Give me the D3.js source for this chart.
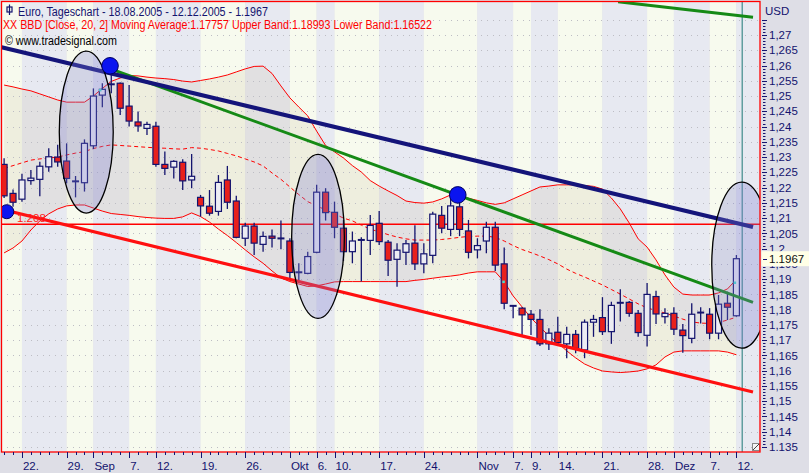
<!DOCTYPE html>
<html><head><meta charset="utf-8">
<script src="https://cdn.jsdelivr.net/npm/d3@7"></script>
<style>html,body{margin:0;padding:0;background:#dedee6;}svg{display:block;}</style>
</head><body>
<svg id="c" width="809" height="473"></svg>
<script>
// ---------- DATA ----------
const dates = ["2005-08-18","2005-08-19","2005-08-22","2005-08-23","2005-08-24","2005-08-25","2005-08-26","2005-08-29","2005-08-30","2005-08-31",
"2005-09-01","2005-09-02","2005-09-05","2005-09-06","2005-09-07","2005-09-08","2005-09-09","2005-09-12","2005-09-13","2005-09-14","2005-09-15","2005-09-16","2005-09-19","2005-09-20","2005-09-21","2005-09-22","2005-09-23","2005-09-26","2005-09-27","2005-09-28","2005-09-29","2005-09-30",
"2005-10-03","2005-10-04","2005-10-05","2005-10-06","2005-10-07","2005-10-10","2005-10-11","2005-10-12","2005-10-13","2005-10-14","2005-10-17","2005-10-18","2005-10-19","2005-10-20","2005-10-21","2005-10-24","2005-10-25","2005-10-26","2005-10-27","2005-10-28","2005-10-31",
"2005-11-01","2005-11-02","2005-11-03","2005-11-04","2005-11-07","2005-11-08","2005-11-09","2005-11-10","2005-11-11","2005-11-14","2005-11-15","2005-11-16","2005-11-17","2005-11-18","2005-11-21","2005-11-22","2005-11-23","2005-11-24","2005-11-25","2005-11-28","2005-11-29","2005-11-30",
"2005-12-01","2005-12-02","2005-12-05","2005-12-06","2005-12-07","2005-12-08","2005-12-09","2005-12-12"];

const open  = [1.2276,1.2181,1.2162,1.2223,1.2227,1.2268,1.2300,1.2287,1.2220,1.2216,
1.2337,1.2503,1.2538,1.2542,1.2467,1.2415,1.2394,1.2401,1.2276,1.2267,
1.2283,1.2225,1.2168,1.2139,1.2122,1.2225,1.2156,1.2034,1.2074,1.2014,
1.2041,1.2034,1.2025,1.1922,1.1919,1.1988,1.2185,1.2119,1.2067,1.1990,
1.2028,1.2027,1.2083,1.2021,1.1965,1.1988,1.2018,1.1950,1.1978,1.2109,
1.2063,1.2137,1.2058,1.1996,1.2025,1.2070,1.1950,1.1812,1.1805,1.1785,
1.1768,1.1688,1.1726,1.1688,1.1719,1.1668,1.1759,1.1774,1.1728,1.1823,
1.1824,1.1788,1.1716,1.1843,1.1777,1.1788,1.1733,1.1706,1.1790,1.1785,
1.1723,1.1821,1.1780];
const high  = [1.2296,1.2194,1.2245,1.2258,1.2285,1.2329,1.2340,1.2345,1.2238,1.2358,
1.2525,1.2542,1.2585,1.2544,1.2536,1.2449,1.2416,1.2416,1.2318,1.2290,
1.2293,1.2310,1.2176,1.2192,1.2241,1.2271,1.2173,1.2085,1.2085,1.2056,
1.2063,1.2092,1.2034,1.1952,1.1990,1.2209,1.2198,1.2154,1.2094,1.2056,
1.2037,1.2110,1.2123,1.2028,1.2018,1.2028,1.2077,1.2018,1.2121,1.2140,
1.2170,1.2170,1.2094,1.2034,1.2088,1.2088,1.2004,1.1815,1.1808,1.1799,
1.1801,1.1739,1.1777,1.1744,1.1733,1.1768,1.1783,1.1841,1.1826,1.1867,
1.1828,1.1799,1.1887,1.1862,1.1805,1.1808,1.1753,1.1821,1.1808,1.1805,
1.1848,1.1859,1.1979];
const low   = [1.2166,1.2137,1.2154,1.2209,1.2172,1.2252,1.2268,1.2214,1.2168,1.2187,
1.2326,1.2463,1.2509,1.2438,1.2400,1.2383,1.2372,1.2268,1.2241,1.2230,
1.2192,1.2198,1.2105,1.2108,1.2108,1.2130,1.2034,1.2009,1.1979,1.1990,
1.2004,1.1998,1.1900,1.1897,1.1916,1.1985,1.2092,1.2034,1.1960,1.1952,
1.1892,1.1979,1.2012,1.1910,1.1875,1.1946,1.1930,1.1919,1.1952,1.2050,
1.2041,1.2041,1.1968,1.1968,1.1985,1.1927,1.1801,1.1772,1.1717,1.1717,
1.1681,1.1668,1.1681,1.1641,1.1657,1.1641,1.1711,1.1717,1.1688,1.1761,
1.1777,1.1711,1.1679,1.1753,1.1755,1.1717,1.1659,1.1690,1.1755,1.1703,
1.1703,1.1766,1.1777];
const close = [1.2173,1.2152,1.2225,1.2231,1.2270,1.2301,1.2284,1.2230,1.2221,1.2345,
1.2500,1.2522,1.2539,1.2460,1.2418,1.2402,1.2407,1.2276,1.2263,1.2286,
1.2222,1.2237,1.2140,1.2116,1.2217,1.2152,1.2037,1.2074,1.2018,1.2040,
1.2034,1.2033,1.1922,1.1923,1.1974,1.2185,1.2118,1.2070,1.1990,1.2025,
1.2029,1.2076,1.2023,1.1962,1.1995,1.2016,1.1950,1.1983,1.2113,1.2067,
1.2140,1.2063,1.1988,1.2010,1.2070,1.1946,1.1821,1.1813,1.1783,1.1768,
1.1688,1.1723,1.1692,1.1719,1.1673,1.1759,1.1768,1.1728,1.1814,1.1822,
1.1788,1.1725,1.1850,1.1786,1.1788,1.1736,1.1715,1.1785,1.1791,1.1723,
1.1818,1.1808,1.1967];

const upperBand = [1.2536,1.2530,1.2523,1.2517,1.2507,1.2497,1.2487,1.2480,1.2480,1.2480,
1.2500,1.2525,1.2548,1.2559,1.2567,1.2566,1.2562,1.2559,1.2557,1.2554,
1.2549,1.2546,1.2551,1.2556,1.2562,1.2569,1.2579,1.2589,1.2597,1.2598,
1.2574,1.2533,1.2494,1.2464,1.2435,1.2385,1.2338,1.2317,1.2297,1.2272,
1.2251,1.2223,1.2205,1.2189,1.2174,1.2156,1.2151,1.2149,1.2153,1.2163,
1.2176,1.2171,1.2165,1.2158,1.2150,1.2145,1.2150,1.2163,1.2176,1.2189,
1.2202,1.2205,1.2209,1.2209,1.2209,1.2207,1.2204,1.2195,1.2166,1.2130,
1.2084,1.2032,1.2005,1.1963,1.1914,1.1874,1.1851,1.1848,1.1848,1.1848,
1.1855,1.1868,1.18993];
const midBand = [1.2263,1.2272,1.2281,1.2290,1.2294,1.2297,1.2300,1.2307,1.2313,1.2318,
1.2328,1.2335,1.2340,1.2338,1.2336,1.2334,1.2332,1.2330,1.2329,1.2327,
1.2326,1.2331,1.2329,1.2325,1.2320,1.2312,1.2304,1.2294,1.2284,1.2271,
1.2248,1.2227,1.2202,1.2177,1.2154,1.2140,1.2127,1.2114,1.2100,1.2091,
1.2077,1.2064,1.2055,1.2046,1.2038,1.2032,1.2028,1.2028,1.2028,1.2030,
1.2033,1.2037,1.2040,1.2041,1.2041,1.2037,1.2025,1.2010,1.1997,1.1987,
1.1976,1.1964,1.1950,1.1933,1.1919,1.1907,1.1894,1.1881,1.1866,1.1851,
1.1835,1.1819,1.1806,1.1797,1.1789,1.1779,1.1769,1.1760,1.1756,1.1755,
1.1758,1.1766,1.17757];
const lowerBand = [1.1986,1.2002,1.2025,1.2061,1.2091,1.2114,1.2130,1.2140,1.2143,1.2143,
1.2133,1.2123,1.2115,1.2112,1.2109,1.2105,1.2102,1.2100,1.2099,1.2099,
1.2104,1.2117,1.2105,1.2087,1.2064,1.2043,1.2020,1.1996,1.1973,1.1952,
1.1927,1.1904,1.1892,1.1884,1.1876,1.1878,1.1884,1.1891,1.1892,1.1892,
1.1892,1.1892,1.1892,1.1892,1.1892,1.1892,1.1896,1.1899,1.1903,1.1907,
1.1910,1.1914,1.1920,1.1924,1.1924,1.1924,1.1891,1.1845,1.1809,1.1773,
1.1743,1.1714,1.1691,1.1665,1.1642,1.1622,1.1609,1.1599,1.1596,1.1594,
1.1596,1.1599,1.1606,1.1619,1.1645,1.1661,1.1665,1.1665,1.1665,1.1665,
1.1665,1.1661,1.16522];

// x axis labelled dates
const xTickDates  = ["2005-08-22","2005-08-29","2005-09-01","2005-09-07","2005-09-12","2005-09-19","2005-09-26","2005-10-03","2005-10-06","2005-10-10","2005-10-17","2005-10-24","2005-11-01","2005-11-07","2005-11-09","2005-11-14","2005-11-21","2005-11-28","2005-12-01","2005-12-07","2005-12-12"];
const xTickLabels = ["22.","29.","Sep","7.","12.","19.","26.","Okt","6.","10.","17.","24.","Nov","7.","9.","14.","21.","28.","Dez","7.","12."];
// y axis
const yTickValues = [1.27,1.265,1.26,1.255,1.25,1.245,1.24,1.235,1.23,1.225,1.22,1.215,1.21,1.205,1.2,1.195,1.19,1.185,1.18,1.175,1.17,1.165,1.16,1.155,1.15,1.145,1.14,1.135];
const yTickLabels = ["1,27","1,265","1,26","1,255","1,25","1,245","1,24","1,235","1,23","1,225","1,22","1,215","1,21","1,205","1,2","1,195","1,19","1,185","1,18","1,175","1,17","1,165","1,16","1,155","1,15","1,145","1,14","1.135"];

// drawn annotations (bar index, price)
const navyLine   = [[-0.46,1.2661],[83.86,1.2071]];
const greenLine  = [[11.63,1.2592],[83.86,1.1824]];
const greenTop   = [[68.75,1.2809],[83.86,1.2758]];
const redLine    = [[-0.46,1.2130],[83.86,1.1530]];
const levelLine  = 1.208;
const dots       = [[0.30,1.2121],[11.86,1.2599],[50.8,1.2176]];
const ellipses   = [[9.2,1.2382,3.02,0.02654],[35.15,1.2040,2.95,0.02687],[82.6,1.1946,3.36,0.0272]];
const signals    = [[10.74,1.2520],[55.9,1.1892],[81.8,1.1889]];
const cursorIdx  = 82.65;
const lastPrice  = 1.1967;

// ---------- CHART ----------
const svg = d3.select("#c");
const P = {l:1, t:1, r:760, b:452};
const x = d3.scaleLinear().domain([0,82]).range([4.1,736.4]);
const y = d3.scaleLinear().domain([1.135,1.27]).range([447,35]);
const navy = "#13136e";
const idx = d => dates.indexOf(d);

svg.append("rect").attr("width",809).attr("height",473).attr("fill","#dedee6");
svg.append("defs").append("clipPath").attr("id","pc").append("rect")
  .attr("x",P.l).attr("y",P.t).attr("width",P.r-P.l).attr("height",P.b-P.t);
const g = svg.append("g").attr("clip-path","url(#pc)");

// stripes
const tx = xTickDates.map(d => x(idx(d)));
const bounds = [P.l, ...tx, P.r];
for (let k = 0; k < bounds.length-1; k++) {
  const blue = k>0 && (k-1)%2===0;
  g.append("rect").attr("x",bounds[k]).attr("y",P.t).attr("width",bounds[k+1]-bounds[k]).attr("height",P.b-P.t)
   .attr("fill", blue ? "#e7e9f1" : "#f7faee");
}
// band fill
const I = d3.range(dates.length);
g.append("path").datum(I)
 .attr("d", d3.area().x(i=>x(i)).y0(i=>y(lowerBand[i])).y1(i=>y(upperBand[i])))
 .attr("fill","rgb(190,180,140)").attr("fill-opacity",0.16);
// grid
const gridVals = d3.range(0,29).map(k => 1.135 + k*0.005);
g.selectAll(".gr").data(gridVals).enter().append("line")
 .attr("x1",P.l).attr("x2",P.r).attr("y1",d=>Math.round(y(d))+0.5).attr("y2",d=>Math.round(y(d))+0.5)
 .attr("stroke","#bdbdc4").attr("stroke-width",1).attr("stroke-dasharray","1,5");

// level line
g.append("line").attr("x1",P.l).attr("x2",P.r).attr("y1",y(levelLine)).attr("y2",y(levelLine))
 .attr("stroke","#ff0000").attr("stroke-width",1.4);

// bands
const ln = arr => d3.line().x(i=>x(i)).y(i=>y(arr[i]));
g.append("path").datum(I).attr("d",ln(upperBand)).attr("fill","none").attr("stroke","#ff0000").attr("stroke-width",1);
g.append("path").datum(I).attr("d",ln(lowerBand)).attr("fill","none").attr("stroke","#ff0000").attr("stroke-width",1);
g.append("path").datum(I).attr("d",ln(midBand)).attr("fill","none").attr("stroke","#ff0000").attr("stroke-width",1).attr("stroke-dasharray","4,3");

// cursor line
g.append("line").attr("x1",x(cursorIdx)).attr("x2",x(cursorIdx)).attr("y1",P.t).attr("y2",P.b)
 .attr("stroke","#3f8a8a").attr("stroke-width",1.2);

// candles
const cg = g.append("g");
I.forEach(i => {
  const cx = x(i), yo = y(open[i]), yc = y(close[i]);
  cg.append("line").attr("x1",cx).attr("x2",cx).attr("y1",y(high[i])).attr("y2",y(low[i]))
    .attr("stroke",navy).attr("stroke-width",1.3);
  if (Math.abs(yo-yc) < 1.8) {
    cg.append("line").attr("x1",cx-3.5).attr("x2",cx+3.5).attr("y1",(yo+yc)/2).attr("y2",(yo+yc)/2)
      .attr("stroke",navy).attr("stroke-width",2);
  } else {
    cg.append("rect").attr("x",cx-3).attr("width",6)
      .attr("y",Math.min(yo,yc)).attr("height",Math.abs(yo-yc))
      .attr("fill", close[i] >= open[i] ? "#ececf3" : "#e8201c")
      .attr("stroke",navy).attr("stroke-width",1.2);
  }
});

// trend lines
const tl = (pts, col, w) => g.append("line")
  .attr("x1",x(pts[0][0])).attr("y1",y(pts[0][1])).attr("x2",x(pts[1][0])).attr("y2",y(pts[1][1]))
  .attr("stroke",col).attr("stroke-width",w);
tl(redLine,"#ff1010",3.2);
tl(greenLine,"#158a15",3);
tl(greenTop,"#158a15",3);
tl(navyLine,"#14147a",4);

// signals
g.selectAll(".sg").data(signals).enter().append("rect")
 .attr("x",d=>x(d[0])-1).attr("y",d=>y(d[1])-1).attr("width",2.5).attr("height",2.5).attr("fill","#40e0d0");

// ellipses
const pxDay = x(1)-x(0), pxP = y(0)-y(1);
g.selectAll(".el").data(ellipses).enter().append("ellipse")
 .attr("cx",d=>x(d[0])).attr("cy",d=>y(d[1]))
 .attr("rx",d=>d[2]*pxDay).attr("ry",d=>d[3]*(y(1.2)-y(1.21))/0.01)
 .attr("fill","rgb(125,125,210)").attr("fill-opacity",0.3)
 .attr("stroke","#000").attr("stroke-width",1.3);

// dots
g.selectAll(".dt").data(dots).enter().append("circle")
 .attr("cx",d=>x(d[0])).attr("cy",d=>y(d[1])).attr("r",(d,i)=>i===0?7:8.3)
 .attr("fill","#0a14f0").attr("stroke","#000060").attr("stroke-width",1);

// level label
g.append("text").attr("x",17).attr("y",y(levelLine)-2).text("1.208")
 .attr("font-family","Liberation Sans, Arial, sans-serif").attr("font-size",11.5).attr("fill","#ff2020");

// header
const hf = "Liberation Sans, Arial, sans-serif";
g.append("rect").attr("x",7).attr("y",7).attr("width",5).attr("height",5).attr("fill","none").attr("stroke",navy).attr("stroke-width",1.2);
g.append("line").attr("x1",9.5).attr("x2",9.5).attr("y1",4.5).attr("y2",15).attr("stroke",navy).attr("stroke-width",1.2);
g.append("text").attr("x",18).attr("y",16).attr("font-family",hf).attr("font-size",12.3).attr("fill",navy)
 .attr("textLength",250).attr("lengthAdjust","spacingAndGlyphs")
 .text("Euro, Tageschart - 18.08.2005 - 12.12.2005 - 1.1967");
g.append("text").attr("x",3).attr("y",29).attr("font-family",hf).attr("font-size",12.3).attr("fill","#ff0000")
 .attr("textLength",429).attr("lengthAdjust","spacingAndGlyphs")
 .text("XX BBD [Close, 20, 2] Moving Average:1.17757 Upper Band:1.18993 Lower Band:1.16522");
g.append("text").attr("x",5).attr("y",45).attr("font-family",hf).attr("font-size",12.3).attr("fill","#000")
 .attr("textLength",112).attr("lengthAdjust","spacingAndGlyphs")
 .text("© www.tradesignal.com");

// small icon bottom-right
g.append("rect").attr("x",752.5).attr("y",443.5).attr("width",7).attr("height",7).attr("fill","#f4f4f4").attr("stroke","#888");
g.append("line").attr("x1",753).attr("y1",450).attr("x2",759).attr("y2",444).attr("stroke","#444");

// frame
svg.append("rect").attr("x",P.l+0.5).attr("y",P.t+0.5).attr("width",P.r-P.l-0.5).attr("height",P.b-P.t-0.5)
 .attr("fill","none").attr("stroke","#ff0000").attr("stroke-width",1.3);

// y axis
const ya = svg.append("g");
const minorVals = d3.range(0,141).map(k => 1.135 + k*0.001);
ya.selectAll(".mn").data(minorVals).enter().append("line")
 .attr("x1",763).attr("x2",765.5).attr("y1",d=>Math.round(y(d))+0.5).attr("y2",d=>Math.round(y(d))+0.5)
 .attr("stroke",navy).attr("stroke-width",1);
ya.selectAll(".mj").data([...yTickValues,1.275]).enter().append("line")
 .attr("x1",762).attr("x2",767).attr("y1",d=>Math.round(y(d))+0.5).attr("y2",d=>Math.round(y(d))+0.5)
 .attr("stroke",navy).attr("stroke-width",1);
ya.selectAll(".yl").data(yTickValues).enter().append("text")
 .attr("x",769).attr("y",d=>y(d)).attr("dy","0.36em").text((d,i)=>yTickLabels[i])
 .attr("font-family",hf).attr("font-size",11.5).attr("fill",navy);
ya.append("text").attr("x",765).attr("y",15).text("USD").attr("font-family",hf).attr("font-size",11.5).attr("fill",navy);
// last price box
ya.append("rect").attr("x",761.5).attr("y",y(lastPrice)-7.5).attr("width",47.5).attr("height",15).attr("fill","#ffffe6");
ya.append("line").attr("x1",763).attr("x2",767).attr("y1",Math.round(y(lastPrice))+0.5).attr("y2",Math.round(y(lastPrice))+0.5).attr("stroke",navy);
ya.append("text").attr("x",769).attr("y",y(lastPrice)).attr("dy","0.36em").text(lastPrice.toFixed(4))
 .attr("font-family",hf).attr("font-size",11.5).attr("fill","#111");

// x axis
const xa = svg.append("g");
xa.selectAll(".xm").data(I).enter().append("line")
 .attr("x1",i=>Math.round(x(i))+0.5).attr("x2",i=>Math.round(x(i))+0.5).attr("y1",452).attr("y2",455)
 .attr("stroke",navy);
xa.selectAll(".xj").data(xTickDates).enter().append("line")
 .attr("x1",d=>Math.round(x(idx(d)))+0.5).attr("x2",d=>Math.round(x(idx(d)))+0.5).attr("y1",452).attr("y2",458)
 .attr("stroke",navy);
xa.selectAll(".xl").data(xTickDates).enter().append("text")
 .attr("x",d=>x(idx(d))+1).attr("y",470).text((d,i)=>xTickLabels[i])
 .attr("font-family",hf).attr("font-size",11.5).attr("fill",navy);
</script>
</body></html>
